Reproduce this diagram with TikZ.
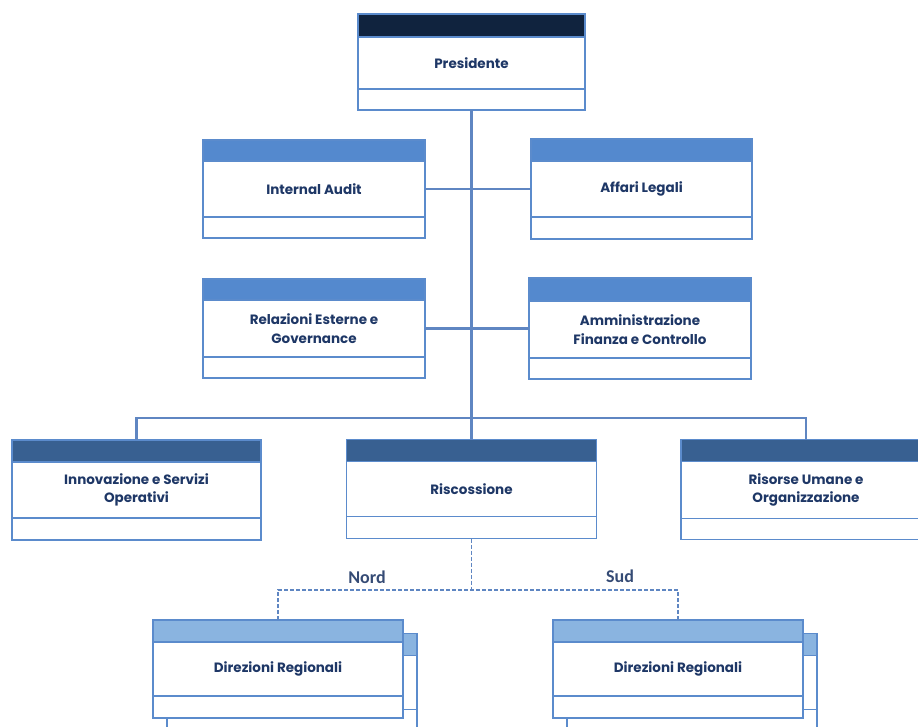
\documentclass[tikz,border=0pt]{standalone}
\usepackage{fontspec}
\setmainfont{Poppins}
\newfontfamily\tagfont{Carlito}
\usetikzlibrary{positioning}
\definecolor{navy}{HTML}{10233E}
\definecolor{midblue}{HTML}{5489CE}
\definecolor{deepblue}{HTML}{386091}
\definecolor{paleblue}{HTML}{8AB4E0}
\definecolor{rim}{HTML}{5B8BCC}
\definecolor{wirecol}{HTML}{5F86C2}
\definecolor{ink}{HTML}{1E3766}
\tikzset{
  unit/.style={draw=rim, line width=1.4pt, fill=white, inner sep=1pt, outer sep=0pt, align=center, text=ink, font=\bfseries\fontsize{13.5}{18.5}\selectfont},
  band/.style={draw=rim, line width=1.4pt, inner sep=0pt, outer sep=0pt},
  foot/.style={draw=rim, line width=1.4pt, fill=white, inner sep=0pt, outer sep=0pt},
  wire/.style={draw=wirecol, line width=2.2pt},
  dashwire/.style={wire, line width=1.8pt, dash pattern=on 4pt off 2pt},
  tag/.style={text=ink!90, font=\tagfont\bfseries\fontsize{18}{20}\selectfont},
}
\begin{document}
\begin{tikzpicture}[x=1pt,y=-1pt]
  \useasboundingbox (0,0) rectangle (918,726);
  \clip (0,0) rectangle (918,726);

  \node[unit, minimum width=227pt, minimum height=52pt] (pres) at (471.5,63) {Presidente};
  \node[band, fill=navy, minimum width=227pt, minimum height=23pt, above=0pt of pres] (presH) {};
  \node[foot, minimum width=227pt, minimum height=21pt, below=0pt of pres] (presF) {};

  \node[unit, minimum width=222pt, minimum height=56pt] (audit) at (314,189) {Internal Audit};
  \node[band, fill=midblue, minimum width=222pt, minimum height=21pt, above=0pt of audit] (auditH) {};
  \node[foot, minimum width=222pt, minimum height=21pt, below=0pt of audit] (auditF) {};

  \node[unit, minimum width=221pt, minimum height=56pt] (legal) at (641.5,189) {Affari Legali};
  \node[band, fill=midblue, minimum width=221pt, minimum height=22pt, above=0pt of legal] (legalH) {};
  \node[foot, minimum width=221pt, minimum height=22pt, below=0pt of legal] (legalF) {};

  \node[unit, minimum width=222pt, minimum height=57pt] (relaz) at (314,328.5) {Relazioni Esterne e\\Governance};
  \node[band, fill=midblue, minimum width=222pt, minimum height=21pt, above=0pt of relaz] (relazH) {};
  \node[foot, minimum width=222pt, minimum height=21pt, below=0pt of relaz] (relazF) {};

  \node[unit, minimum width=222pt, minimum height=57pt] (afc) at (640,329.5) {Amministrazione\\Finanza e Controllo};
  \node[band, fill=midblue, minimum width=222pt, minimum height=23pt, above=0pt of afc] (afcH) {};
  \node[foot, minimum width=222pt, minimum height=21pt, below=0pt of afc] (afcF) {};

  \node[unit, minimum width=249pt, minimum height=56pt] (innov) at (136.5,490) {Innovazione e Servizi\\Operativi};
  \node[band, fill=deepblue, minimum width=249pt, minimum height=22pt, above=0pt of innov] (innovH) {};
  \node[foot, minimum width=249pt, minimum height=22pt, below=0pt of innov] (innovF) {};

  \node[unit, minimum width=250pt, minimum height=55pt] (risc) at (471.5,489) {Riscossione};
  \node[band, fill=deepblue, minimum width=250pt, minimum height=22pt, above=0pt of risc] (riscH) {};
  \node[foot, minimum width=250pt, minimum height=22pt, below=0pt of risc] (riscF) {};

  \node[unit, minimum width=250pt, minimum height=57pt] (hr) at (806,490) {Risorse Umane e\\Organizzazione};
  \node[band, fill=deepblue, minimum width=250pt, minimum height=22pt, above=0pt of hr] (hrH) {};
  \node[foot, minimum width=250pt, minimum height=21pt, below=0pt of hr] (hrF) {};

  \node[unit, minimum width=250pt, minimum height=54pt] (nordB) at (292,682.5) {};
  \node[band, fill=paleblue, minimum width=250pt, minimum height=22pt, above=0pt of nordB] (nordBH) {};
  \node[foot, minimum width=250pt, minimum height=22pt, below=0pt of nordB] (nordBF) {};
  \node[unit, minimum width=250pt, minimum height=54pt] (nord) at (278,669) {Direzioni Regionali};
  \node[band, fill=paleblue, minimum width=250pt, minimum height=22pt, above=0pt of nord] (nordH) {};
  \node[foot, minimum width=250pt, minimum height=22pt, below=0pt of nord] (nordF) {};

  \node[unit, minimum width=250pt, minimum height=54pt] (sudB) at (692,682.5) {};
  \node[band, fill=paleblue, minimum width=250pt, minimum height=22pt, above=0pt of sudB] (sudBH) {};
  \node[foot, minimum width=250pt, minimum height=22pt, below=0pt of sudB] (sudBF) {};
  \node[unit, minimum width=250pt, minimum height=54pt] (sud) at (678,669) {Direzioni Regionali};
  \node[band, fill=paleblue, minimum width=250pt, minimum height=22pt, above=0pt of sud] (sudH) {};
  \node[foot, minimum width=250pt, minimum height=22pt, below=0pt of sud] (sudF) {};

  \node[tag] (nordT) at (367,577) {Nord};
  \node[tag] (sudT) at (620,576) {Sud};

  \coordinate (bus) at (471.5,418);
  \coordinate (split) at (471.5,590);
  \coordinate (nordEnd) at (167,726);
  \coordinate (sudEnd) at (567,726);

  \draw[wire] (presF.south) -- (riscH.north);
  \draw[wire] (audit.east) -- (legal.west);
  \draw[wire] (relaz.east) -- (afc.west |- relaz.east);
  \draw[wire] (innovH.north) |- (bus) -| (hrH.north);
  \draw[dashwire] (riscF.south) -- (split);
  \draw[dashwire] (nordH.north) |- (split) -| (sudH.north);
  \draw[draw=rim, line width=1.4pt] (nordF.south -| nordEnd) -- (nordEnd);
  \draw[draw=rim, line width=1.4pt] (sudF.south -| sudEnd) -- (sudEnd);
\end{tikzpicture}
\end{document}
